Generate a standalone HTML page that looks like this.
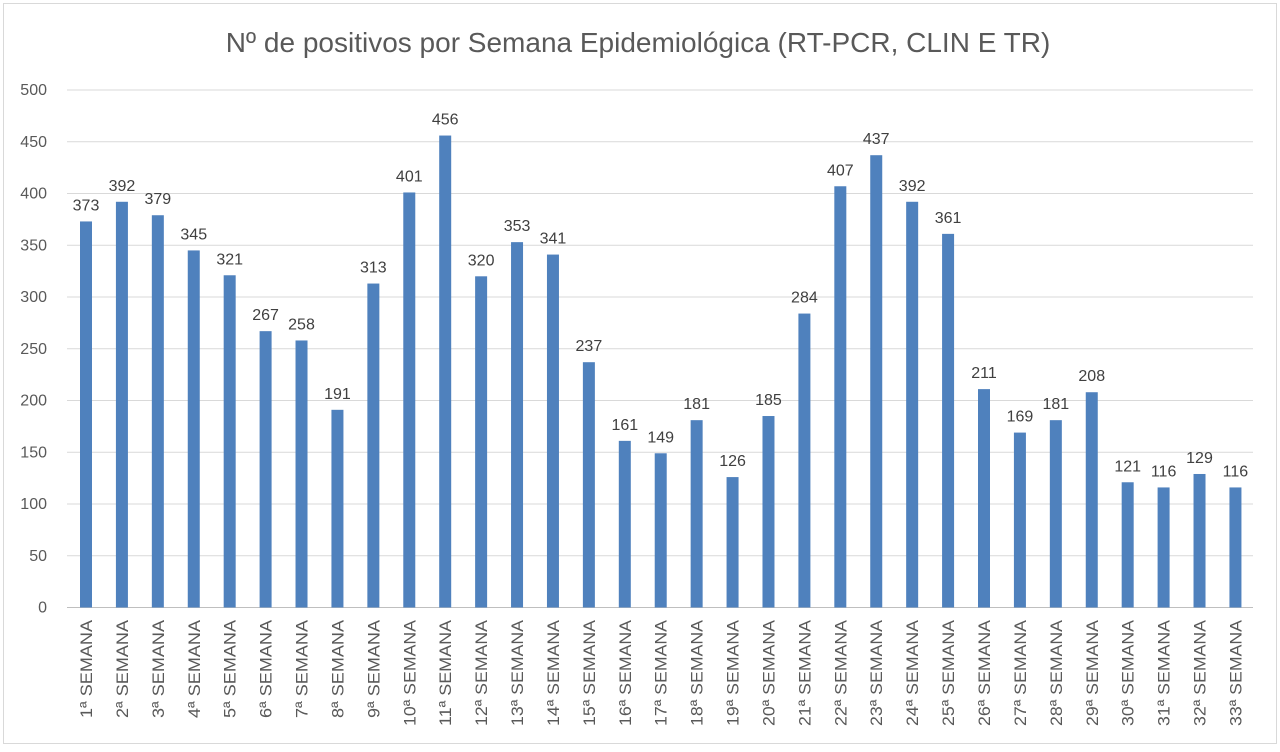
<!DOCTYPE html><html><head><meta charset="utf-8"><style>
body{margin:0;background:#fff}
</style></head><body>
<svg width="1280" height="747" xmlns="http://www.w3.org/2000/svg" font-family="Liberation Sans, DejaVu Sans, sans-serif">
<rect x="0" y="0" width="1280" height="747" fill="#fff"/>
<rect x="3.5" y="3.5" width="1273" height="740" fill="none" stroke="#d9d9d9"/>
<text x="638" y="52" text-anchor="middle" font-size="28" fill="#595959">Nº de positivos por Semana Epidemiológica (RT-PCR, CLIN E TR)</text>
<g id="g"></g>
</svg>
<script>
const v=[373,392,379,345,321,267,258,191,313,401,456,320,353,341,237,161,149,181,126,185,284,407,437,392,361,211,169,181,208,121,116,129,116];
const g=document.getElementById('g');let s='';
const y0=607.5,k=517.5/500;
for(let i=0;i<=10;i++){const y=y0-i*50*k;
s+=`<line x1="67" x2="1253" y1="${y}" y2="${y}" stroke="${i?'#d9d9d9':'#bfbfbf'}" stroke-width="1"/>`;
s+=`<text x="47" y="${y+5}" text-anchor="end" font-size="16" fill="#595959">${i*50}</text>`;}
v.forEach((d,i)=>{const cx=86+i*35.92,h=d*k;
s+=`<rect x="${cx-6}" y="${y0-h}" width="12" height="${h}" fill="#4f81bd"/>`;
s+=`<text x="${cx}" y="${y0-h-11}" text-anchor="middle" font-size="16" fill="#404040">${d}</text>`;
s+=`<text transform="translate(${cx+6},620) rotate(-90)" text-anchor="end" font-size="17" fill="#595959" textLength="${i<9?98:106}" lengthAdjust="spacingAndGlyphs">${i+1}ª SEMANA</text>`;});
g.innerHTML=s;
</script>
</body></html>
